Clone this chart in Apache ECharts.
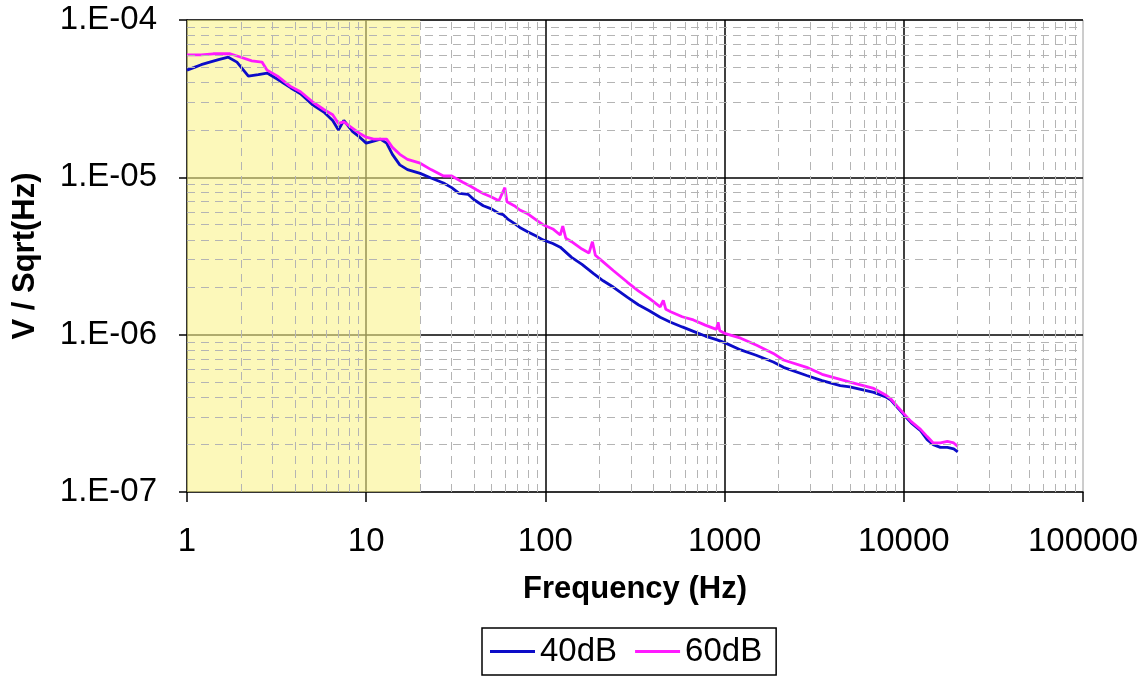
<!DOCTYPE html>
<html><head><meta charset="utf-8">
<script src="https://cdn.jsdelivr.net/npm/echarts@6/dist/echarts.min.js"></script>
<style>html,body{margin:0;padding:0;background:#fff}#c{width:1145px;height:681px}</style>
</head><body><div id="c"></div>
<script>
const xTickLabels = ['1','10','100','1000','10000','100000'];
const yTickLabels = ['1.E-07','1.E-06','1.E-05','1.E-04'];
const seriesNames = ['40dB','60dB'];

const freq40 = [1,1.1,1.2,1.34,1.5,1.7,1.9,2.2,2.5,2.8,3.2,3.8,4.3,5,5.8,6.5,7,7.5,8.4,9.2,10,11,12,13,14,15.4,17,20,23,27,30,33,37,40,45,50,55,58,62,67,72,80,90,97,110,121,140,160,185,210,240,286,330,380,437,500,580,670,780,900,1000,1230,1500,1870,2130,2870,3500,4420,5000,6800,8000,8470,9200,10000,11000,12400,13500,14600,16000,17500,19000,20000];
const val40 = [4.8e-5,5.0e-5,5.2e-5,5.4e-5,5.6e-5,5.8e-5,5.4e-5,4.4e-5,4.5e-5,4.6e-5,4.2e-5,3.7e-5,3.4e-5,2.9e-5,2.6e-5,2.3e-5,2.0e-5,2.3e-5,1.95e-5,1.8e-5,1.65e-5,1.7e-5,1.75e-5,1.65e-5,1.4e-5,1.2e-5,1.12e-5,1.06e-5,9.9e-6,9.2e-6,8.6e-6,7.9e-6,7.8e-6,7.2e-6,6.6e-6,6.3e-6,5.9e-6,5.8e-6,5.4e-6,5.1e-6,4.8e-6,4.5e-6,4.2e-6,4.0e-6,3.8e-6,3.6e-6,3.1e-6,2.8e-6,2.45e-6,2.2e-6,2.0e-6,1.73e-6,1.55e-6,1.42e-6,1.29e-6,1.2e-6,1.12e-6,1.05e-6,9.8e-7,9.3e-7,8.9e-7,8.0e-7,7.4e-7,6.7e-7,6.2e-7,5.5e-7,5.1e-7,4.75e-7,4.65e-7,4.3e-7,4.0e-7,3.84e-7,3.45e-7,3.1e-7,2.75e-7,2.45e-7,2.15e-7,2.0e-7,1.92e-7,1.92e-7,1.88e-7,1.8e-7];

const freq60 = [1,1.2,1.4,1.74,2.0,2.3,2.62,2.8,3.2,3.76,4.3,5.05,5.8,6.5,7,7.5,8.4,9.2,10,11,13,14,15.4,17,20,23,27,30,34.6,38,41.5,45,50,55,59.4,61,67,72,79,90,97,110,121,125,130,140,160,175,183,190,210,240,286,330,380,437,455,470,500,580,670,780,900,920,940,1000,1230,1500,1870,2130,2870,3500,4420,5000,6800,8000,8470,9200,10000,11000,12400,13500,14600,16000,17500,19000,20000];
const val60 = [6.0e-5,6.0e-5,6.1e-5,6.1e-5,5.8e-5,5.5e-5,5.4e-5,4.8e-5,4.4e-5,3.8e-5,3.5e-5,3.0e-5,2.7e-5,2.5e-5,2.2e-5,2.25e-5,2.05e-5,1.9e-5,1.8e-5,1.75e-5,1.75e-5,1.55e-5,1.4e-5,1.3e-5,1.23e-5,1.12e-5,1.02e-5,1.02e-5,9.3e-6,8.8e-6,8.3e-6,7.9e-6,7.5e-6,7.1e-6,8.6e-6,7.0e-6,6.6e-6,6.2e-6,5.9e-6,5.3e-6,5.0e-6,4.7e-6,4.3e-6,4.9e-6,4.1e-6,3.9e-6,3.5e-6,3.3e-6,3.9e-6,3.2e-6,2.9e-6,2.55e-6,2.16e-6,1.9e-6,1.7e-6,1.5e-6,1.65e-6,1.45e-6,1.4e-6,1.3e-6,1.24e-6,1.15e-6,1.08e-6,1.2e-6,1.06e-6,1.02e-6,9.5e-7,8.6e-7,7.6e-7,6.9e-7,6.2e-7,5.6e-7,5.2e-7,5.0e-7,4.55e-7,4.1e-7,3.9e-7,3.5e-7,3.15e-7,2.8e-7,2.5e-7,2.25e-7,2.05e-7,2.05e-7,2.1e-7,2.05e-7,1.95e-7];

const shadeFrom = 1, shadeTo = 20;
const xMin = 1, xMax = 100000, yMin = 1e-7, yMax = 1e-4;

const pairs = (f, v) => f.slice(0, Math.min(f.length, v.length)).map((x, i) => [x, v[i]]);

const minorX = [], minorY = [];
for (let e = 0; e < 5; e++) for (let m = 2; m <= 9; m++) minorX.push(m * Math.pow(10, e));
for (let e = -7; e < -4; e++) for (let m = 2; m <= 9; m++) minorY.push(m * Math.pow(10, e));

const minorLines = minorX.map(v => [{coord: [v, yMin]}, {coord: [v, yMax]}])
  .concat(minorY.map(v => [{coord: [xMin, v]}, {coord: [xMax, v]}]));

const chart = echarts.init(document.getElementById('c'), null, {renderer: 'canvas'});
chart.setOption({
  animation: false,
  textStyle: {fontFamily: 'Liberation Sans'},
  grid: {left: 187, right: 62, top: 20, bottom: 189, show: true, borderColor: '#9a9a9a', borderWidth: 1, backgroundColor: '#fff'},
  legend: {
    data: seriesNames, left: 482, top: 628, orient: 'horizontal',
    borderColor: '#000', borderWidth: 1.5, padding: [7, 14, 7, 8], itemGap: 18,
    itemWidth: 45, itemHeight: 3, icon: 'rect',
    textStyle: {fontSize: 33, color: '#000', fontFamily: 'Liberation Sans'}
  },
  xAxis: {
    type: 'log', logBase: 10, min: xMin, max: xMax, splitNumber: 5,
    name: 'Frequency (Hz)', nameLocation: 'middle', nameGap: 82,
    nameTextStyle: {fontSize: 31, fontWeight: 'bold', color: '#000'},
    axisLine: {show: true, onZero: false, lineStyle: {color: '#000', width: 1.5}},
    axisTick: {show: true, inside: false, length: 10, lineStyle: {color: '#000', width: 1.5}},
    axisLabel: {fontSize: 33, color: '#000', margin: 33,
      formatter: v => xTickLabels[Math.round(Math.log10(v))]},
    splitLine: {show: true, showMinLine: false, showMaxLine: false, lineStyle: {color: '#000', width: 1.5}}
  },
  yAxis: {
    type: 'log', logBase: 10, min: yMin, max: yMax, splitNumber: 3,
    name: 'V / Sqrt(Hz)', nameLocation: 'middle', nameGap: 146, nameRotate: 90,
    nameTextStyle: {fontSize: 31, fontWeight: 'bold', color: '#000'},
    axisLine: {show: true, onZero: false, lineStyle: {color: '#000', width: 1.5}},
    axisTick: {show: true, inside: false, length: 8, lineStyle: {color: '#000', width: 1.5}},
    axisLabel: {fontSize: 33, color: '#000', margin: 30,
      formatter: v => yTickLabels[Math.round(Math.log10(v)) + 7]},
    splitLine: {show: true, showMinLine: false, showMaxLine: false, lineStyle: {color: '#000', width: 1.5}}
  },
  series: [
    {
      type: 'line', data: [], z: 1, silent: true,
      markLine: {
        silent: true, symbol: ['none', 'none'], label: {show: false}, animation: false,
        lineStyle: {color: '#b4b4b4', type: [8, 6], width: 1},
        emphasis: {disabled: true},
        data: minorLines
      }
    },
    {
      name: seriesNames[0], type: 'line', data: pairs(freq40, val40), z: 2,
      showSymbol: false, color: '#0c0cc8', lineStyle: {width: 2.8, color: '#0c0cc8'}
    },
    {
      name: seriesNames[1], type: 'line', data: pairs(freq60, val60), z: 2,
      showSymbol: false, color: '#ff1aff', lineStyle: {width: 2.8, color: '#ff1aff'}
    },
    {
      type: 'line', data: [], z: 3, silent: true,
      markArea: {
        silent: true, animation: false,
        itemStyle: {color: 'rgba(250,244,140,0.6)'},
        data: [[{xAxis: shadeFrom}, {xAxis: shadeTo}]]
      }
    }
  ]
});
</script>
</body></html>
